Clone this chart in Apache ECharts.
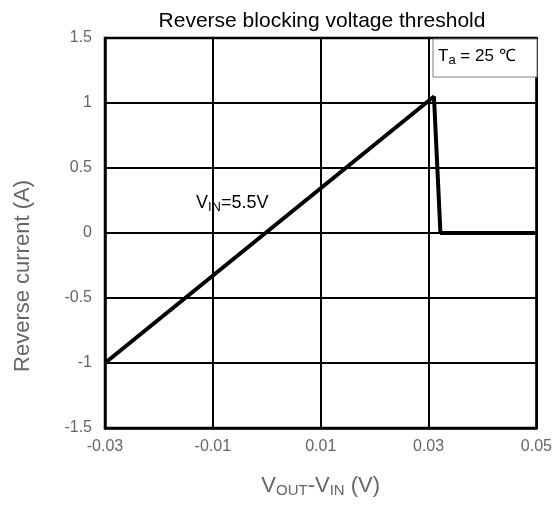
<!DOCTYPE html>
<html>
<head>
<meta charset="utf-8">
<script src="https://cdn.jsdelivr.net/npm/echarts@6/dist/echarts.min.js"></script>
<style>
  html, body { margin: 0; padding: 0; background: #fff; }
  #chart { width: 555px; height: 506px; }
</style>
</head>
<body>
<div id="chart"></div>
<script>
// reverse current vs Vout-Vin, Vin = 5.5V
const vDiff = [-0.03, 0.031, 0.0322, 0.05];
const current = [-1, 1.05, 0, 0];
const xTicks = [-0.03, -0.01, 0.01, 0.03, 0.05];
const yTicks = [-1.5, -1, -0.5, 0, 0.5, 1, 1.5];

const chart = echarts.init(document.getElementById('chart'));
const font = 'Liberation Sans, Arial, sans-serif';
const grey = '#666';

const option = {
  animation: false,
  title: {
    text: 'Reverse blocking voltage threshold',
    left: 317,
    textAlign: 'center',
    top: 6,
    textStyle: { fontFamily: font, fontSize: 21, fontWeight: 'normal', color: '#000' }
  },
  grid: {
    left: 105, right: 17, top: 38, bottom: 78,
    show: true, borderColor: '#000', borderWidth: 2.5
  },
  xAxis: {
    type: 'value',
    min: xTicks[0],
    max: xTicks[xTicks.length - 1],
    interval: 0.02,
    name: '{n|V}{s|OUT}{n|-V}{s|IN}{n| (V)}',
    nameLocation: 'middle',
    nameGap: 45,
    nameTextStyle: {
      rich: {
        n: { fontFamily: font, fontSize: 22, color: grey },
        s: { fontFamily: font, fontSize: 15, color: grey, verticalAlign: 'bottom', padding: [10, 0, 0, 0] }
      }
    },
    axisLine: { onZero: false, lineStyle: { color: '#000', width: 2.5 } },
    axisTick: { show: false },
    axisLabel: {
      fontFamily: font, fontSize: 16, color: grey, margin: 11,
      formatter: v => (+v.toFixed(2)).toString()
    },
    splitLine: { show: true, lineStyle: { color: '#000', width: 2 } }
  },
  yAxis: {
    type: 'value',
    min: yTicks[0],
    max: yTicks[yTicks.length - 1],
    interval: 0.5,
    axisLine: { onZero: false, lineStyle: { color: '#000', width: 2.5 } },
    axisTick: { show: false },
    axisLabel: {
      fontFamily: font, fontSize: 16, color: grey, margin: 13,
      formatter: v => (+v.toFixed(1)).toString()
    },
    splitLine: { show: true, lineStyle: { color: '#000', width: 2 } }
  },
  series: [{
    type: 'line',
    data: vDiff.map((x, i) => [x, current[i]]),
    symbol: 'none',
    lineStyle: { color: '#000', width: 4 },
    z: 5
  }],
  graphic: [
    {
      // y axis title, sits lower than the plot centre in the original
      type: 'text',
      x: 23, y: 276,
      rotation: Math.PI / 2,
      style: {
        text: 'Reverse current (A)',
        fontFamily: font, fontSize: 22, fill: grey,
        align: 'center', verticalAlign: 'middle'
      }
    },
    {
      type: 'text',
      left: 196, top: 194,
      style: {
        text: '{n|V}{s|IN}{n|=5.5V}',
        rich: {
          n: { fontFamily: font, fontSize: 18, fill: '#000' },
          s: { fontFamily: font, fontSize: 13, fill: '#000', verticalAlign: 'bottom', padding: [8, 0, 0, 0] }
        }
      },
      z: 10
    },
    {
      type: 'rect',
      shape: { x: 433, y: 39, width: 104, height: 38 },
      style: { fill: '#fff', stroke: '#808080', lineWidth: 1 },
      z: 10
    },
    {
      type: 'text',
      left: 438, top: 48,
      style: {
        text: '{n|T}{s|a}{n| = 25 ℃}',
        rich: {
          n: { fontFamily: font, fontSize: 17, fill: '#000' },
          s: { fontFamily: font, fontSize: 13, fill: '#000', verticalAlign: 'bottom', padding: [8, 0, 0, 0] }
        }
      },
      z: 11
    }
  ]
};

chart.setOption(option);
</script>
</body>
</html>
